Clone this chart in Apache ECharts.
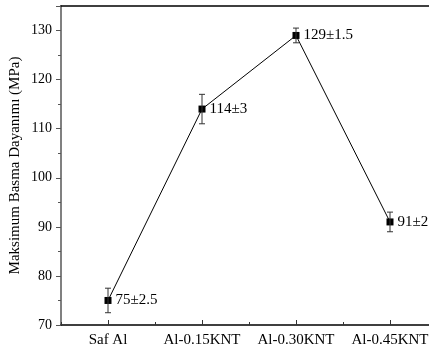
<!DOCTYPE html>
<html>
<head>
<meta charset="utf-8">
<script src="https://cdn.jsdelivr.net/npm/echarts@6/dist/echarts.min.js"></script>
<style>html,body{margin:0;padding:0;background:#fff;}#c{width:429px;height:352px;}</style>
</head>
<body>
<div id="c"></div>
<script>
const categories = ['Saf Al', 'Al-0.15KNT', 'Al-0.30KNT', 'Al-0.45KNT'];
const values = [75, 114, 129, 91];
const errors = [2.5, 3, 1.5, 2];
const yTicks = [70, 80, 90, 100, 110, 120, 130];

const FONT = '"Liberation Serif", "Times New Roman", serif';
const chart = echarts.init(document.getElementById('c'), null, {renderer: 'canvas'});

const errData = values.map((v, i) => [i, v - errors[i], v + errors[i]]);
const labels = values.map((v, i) => v + '±' + errors[i]);

chart.setOption({
  animation: false,
  grid: {left: 61, top: 6, bottom: 27, right: -8, containLabel: false, outerBoundsMode: 'none'},
  xAxis: [
    {
      type: 'category', data: categories, position: 'bottom',
      boundaryGap: true,
      axisLine: {show: true, lineStyle: {color: '#000', width: 1.5}},
      axisTick: {show: true, inside: true, alignWithLabel: true, length: 5, lineStyle: {color: '#333'}},
      axisLabel: {color: '#000', fontFamily: FONT, fontSize: 15, margin: 8, interval: 0, hideOverlap: false},
      splitLine: {show: false}
    },
    {
      type: 'category', data: categories, position: 'top',
      axisLine: {show: true, lineStyle: {color: '#000', width: 1.5}},
      axisTick: {show: false}, axisLabel: {show: false}, splitLine: {show: false}
    },
    {
      type: 'category', data: categories, position: 'bottom',
      boundaryGap: true,
      axisLine: {show: false},
      axisTick: {show: true, inside: true, alignWithLabel: false, interval: 0, length: 3, lineStyle: {color: '#333'}},
      axisLabel: {show: false}, splitLine: {show: false}
    }
  ],
  yAxis: {
    type: 'value', min: 70, max: 135, interval: 10,
    name: 'Maksimum Basma Dayanımı (MPa)', nameLocation: 'middle', nameGap: 38,
    nameMoveOverlap: false,
    nameTextStyle: {color: '#000', fontFamily: FONT, fontSize: 15},
    axisLine: {show: true, lineStyle: {color: '#808080', width: 2}},
    axisTick: {show: true, inside: false, length: 5, lineStyle: {color: '#555'}},
    minorTick: {show: true, splitNumber: 2, length: 3, lineStyle: {color: '#555'}},
    axisLabel: {
      color: '#000', fontFamily: FONT, fontSize: 14, margin: 9,
      showMaxLabel: false,
      formatter: v => (yTicks.indexOf(v) >= 0 ? String(v) : '')
    },
    splitLine: {show: false}
  },
  series: [
    {
      type: 'custom', xAxisIndex: 0, z: 3,
      data: errData,
      renderItem: (params, api) => {
        const x = api.value(0);
        const lo = api.coord([x, api.value(1)]);
        const hi = api.coord([x, api.value(2)]);
        const w = 3;
        const style = {stroke: '#333', lineWidth: 1};
        return {type: 'group', children: [
          {type: 'line', shape: {x1: lo[0], y1: lo[1], x2: hi[0], y2: hi[1]}, style},
          {type: 'line', shape: {x1: lo[0]-w, y1: lo[1], x2: lo[0]+w, y2: lo[1]}, style},
          {type: 'line', shape: {x1: hi[0]-w, y1: hi[1], x2: hi[0]+w, y2: hi[1]}, style}
        ]};
      }
    },
    {
      type: 'line', xAxisIndex: 0, z: 2,
      data: values,
      symbol: 'rect', symbolSize: 7,
      itemStyle: {color: '#000'},
      lineStyle: {color: '#000', width: 1},
      label: {
        show: true, position: 'right', distance: 4,
        color: '#000', fontFamily: FONT, fontSize: 15,
        formatter: p => labels[p.dataIndex]
      }
    }
  ]
});
</script>
</body>
</html>
